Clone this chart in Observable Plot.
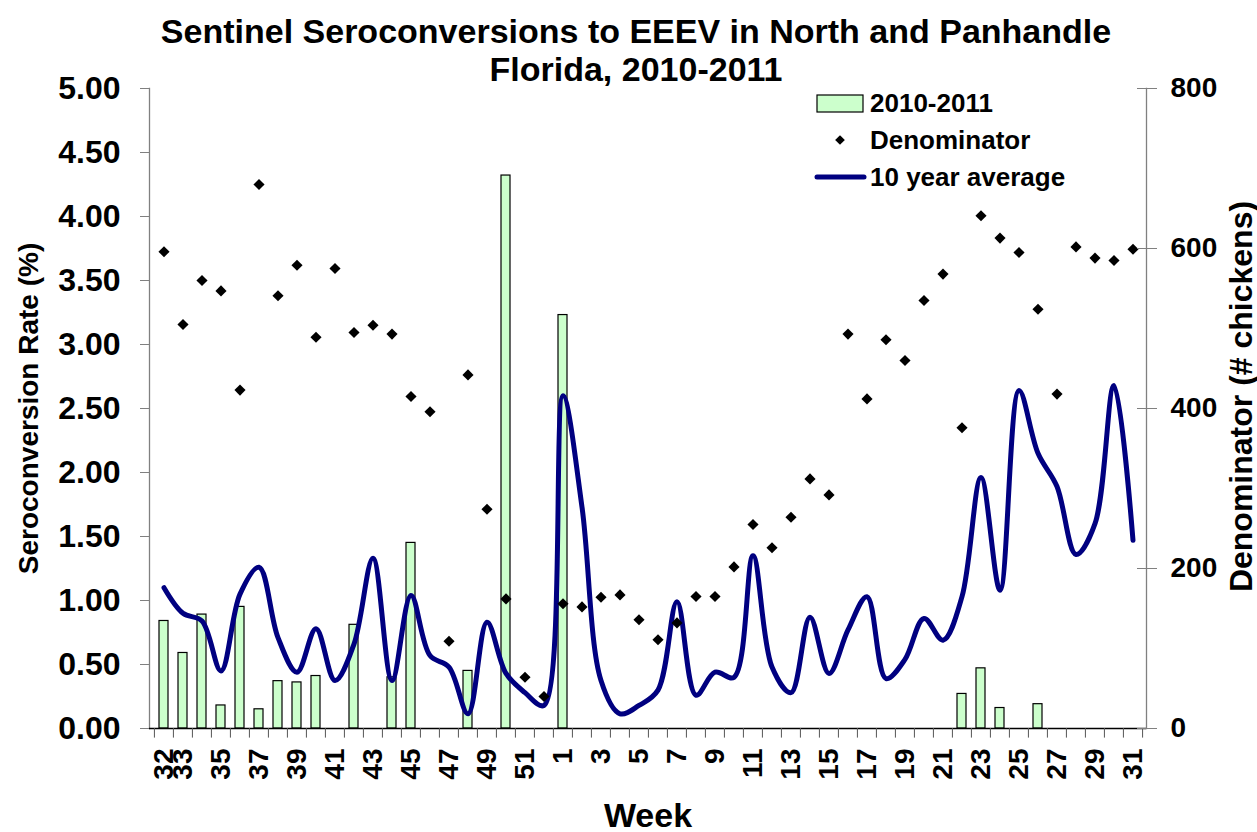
<!DOCTYPE html>
<html>
<head>
<meta charset="utf-8">
<script src="https://cdn.jsdelivr.net/npm/d3@7"></script>
<script src="https://cdn.jsdelivr.net/npm/@observablehq/plot@0.6"></script>
<style>
  body { margin: 0; background: #fff; font-family: "Liberation Sans", Arial, sans-serif; }
  #wrap { position: relative; width: 1257px; height: 832px; }
  #legend { position: absolute; left: 0; top: 0; pointer-events: none; }
</style>
</head>
<body>
<div id="wrap"></div>
<script>
// ---- Data ----
const weeks = [32,33,34,35,36,37,38,39,40,41,42,43,44,45,46,47,48,49,50,51,52,
               1,2,3,4,5,6,7,8,9,10,11,12,13,14,15,16,17,18,19,20,21,22,23,24,25,26,27,28,29,30,31].map(String);

// 2010-2011 seroconversion rate (%) — bars (null = no bar)
const rate2010 = [0.84,0.59,0.89,0.18,0.95,0.15,0.37,0.36,0.41,null,0.81,null,0.40,1.45,null,null,0.45,null,4.32,null,null,
                  3.23,null,null,null,null,null,null,null,null,null,null,null,null,null,null,null,null,null,null,null,null,
                  0.27,0.47,0.16,null,0.19,null,null,null,null,null];

// Denominator (# chickens) — diamonds, right axis
const denominator = [596,505,560,547,423,680,541,579,489,575,495,504,493,415,396,109,442,274,162,64,40,
                     156,152,164,167,136,111,132,165,165,202,255,226,264,312,292,493,412,486,460,535,568,
                     376,641,613,595,524,418,602,588,585,599];

// 10 year average seroconversion rate (%) — smoothed line
const avg10 = [1.10,0.90,0.84,0.45,1.05,1.26,0.71,0.44,0.78,0.375,0.66,1.33,0.375,1.04,0.57,0.48,0.115,0.83,0.43,0.28,0.18,
               2.60,1.73,0.375,0.115,0.18,0.30,0.99,0.26,0.44,0.40,1.35,0.48,0.28,0.87,0.43,0.77,1.03,0.39,0.54,0.86,0.69,
               1.03,1.96,1.08,2.64,2.15,1.89,1.36,1.60,2.68,1.47];

const leftTicks = [0,0.5,1,1.5,2,2.5,3,3.5,4,4.5,5];
const rightTicks = [0,200,400,600,800];
const labelWeeks = weeks.filter((w, i) => i === 0 || i % 2 === 1);

const titleText = "Sentinel Seroconversions to EEEV in North and Panhandle\nFlorida, 2010-2011";
const leftTitle = "Seroconversion Rate (%)";
const rightTitle = "Denominator (# chickens)";
const xTitle = "Week";

// ---- Build ----
const rows = weeks.map((w, i) => ({week: w, rate: rate2010[i], denom: denominator[i], avg: avg10[i]}));
const rightMax = 800, leftMax = 5;
const toLeft = v => v * leftMax / rightMax;

const W = 1257, H = 832;
const mL = 149, mR = 111, mT = 88, mB = 104;
const step = (W - mL - mR) / weeks.length;

const font = "'Liberation Sans', Arial, sans-serif";

const chart = Plot.plot({
  width: W, height: H,
  marginLeft: mL, marginRight: mR, marginTop: mT, marginBottom: mB,
  style: {fontFamily: font, fontWeight: "bold", background: "#fff", color: "#000", overflow: "visible"},
  x: {type: "band", domain: weeks, paddingInner: 0.55, paddingOuter: 0.275, axis: null},
  y: {domain: [0, leftMax], axis: null},
  marks: [
    // bars
    Plot.barY(rows.filter(d => d.rate != null), {x: "week", y: "rate", fill: "#ccffcc", stroke: "#000", strokeWidth: 1.2}),
    // 10 year average
    Plot.line(rows, {x: "week", y: "avg", stroke: "#000080", strokeWidth: 5, curve: "catmull-rom"}),
    // denominator diamonds
    Plot.dot(rows, {x: "week", y: d => toLeft(d.denom), symbol: "diamond2", r: 5, fill: "#000", stroke: "none"}),
    // axes lines
    Plot.frame({anchor: "left", stroke: "#808080", strokeWidth: 1.3}),
    Plot.frame({anchor: "right", stroke: "#808080", strokeWidth: 1.3}),
    Plot.ruleY([0], {stroke: "#000", strokeWidth: 1.3}),
    // x tick marks at category boundaries
    Plot.ruleX(weeks, {x: d => d, y1: 0, y2: -0.075, dx: -step / 2, stroke: "#555"}),
    Plot.ruleX([weeks[weeks.length - 1]], {x: d => d, y1: 0, y2: -0.075, dx: step / 2, stroke: "#555"}),
    // left axis
    Plot.axisY(leftTicks, {anchor: "left", tickSize: 9, tickPadding: 20, fontSize: 32, stroke: "#808080",
      tickFormat: d => d.toFixed(2), label: null}),
    // right axis
    Plot.axisY(rightTicks.map(toLeft), {anchor: "right", tickSize: 10, tickPadding: 14, fontSize: 28, stroke: "#808080",
      tickFormat: d => String(Math.round(d * rightMax / leftMax)), label: null}),
    Plot.axisY(rightTicks.map(toLeft), {anchor: "right", tickSize: -10, tickPadding: 0, stroke: "#808080",
      tickFormat: () => "", label: null}),
    // x axis labels
    Plot.axisX(labelWeeks, {anchor: "bottom", tickSize: 0, tickPadding: 20, tickRotate: -90, fontSize: 28, label: null}),
    // titles
    Plot.text([titleText], {frameAnchor: "top", dx: -12, dy: -8, lineAnchor: "bottom", lineHeight: 1.1,
      fontSize: 34, fontWeight: "bold", fill: "#000"}),
    Plot.text([leftTitle], {frameAnchor: "left", dx: -112, rotate: -90, lineAnchor: "bottom", textAnchor: "middle",
      fontSize: 28, fontWeight: "bold", fill: "#000"}),
    Plot.text([rightTitle], {frameAnchor: "right", dx: 105, dy: -12, rotate: -90, lineAnchor: "bottom", textAnchor: "middle",
      fontSize: 32, fontWeight: "bold", fill: "#000"}),
    Plot.text([xTitle], {frameAnchor: "bottom", dy: 98, lineAnchor: "bottom",
      fontSize: 34, fontWeight: "bold", fill: "#000"})
  ]
});

const wrap = document.getElementById("wrap");
wrap.appendChild(chart);

// ---- Legend (overlay) ----
const legendItems = [
  {label: "2010-2011", kind: "bar"},
  {label: "Denominator", kind: "dot"},
  {label: "10 year average", kind: "line"}
];
const lg = d3.select(wrap).append("svg").attr("id", "legend").attr("width", W).attr("height", H);
const lx = 817, ly = 103, lgap = 37, tx = 870;
legendItems.forEach((it, i) => {
  const cy = ly + i * lgap;
  if (it.kind === "bar") {
    lg.append("rect").attr("x", lx).attr("y", cy - 8).attr("width", 46).attr("height", 17)
      .attr("fill", "#ccffcc").attr("stroke", "#000").attr("stroke-width", 1.2);
  } else if (it.kind === "dot") {
    lg.append("path").attr("d", d3.symbol(d3.symbolDiamond2, 60)()).attr("transform", `translate(${lx + 23},${cy})`)
      .attr("fill", "#000");
  } else {
    lg.append("line").attr("x1", lx).attr("x2", lx + 47).attr("y1", cy).attr("y2", cy)
      .attr("stroke", "#000080").attr("stroke-width", 5).attr("stroke-linecap", "round");
  }
  lg.append("text").attr("x", tx).attr("y", cy + 9).text(it.label)
    .attr("font-family", font).attr("font-weight", "bold").attr("font-size", 26).attr("fill", "#000");
});
</script>
</body>
</html>
